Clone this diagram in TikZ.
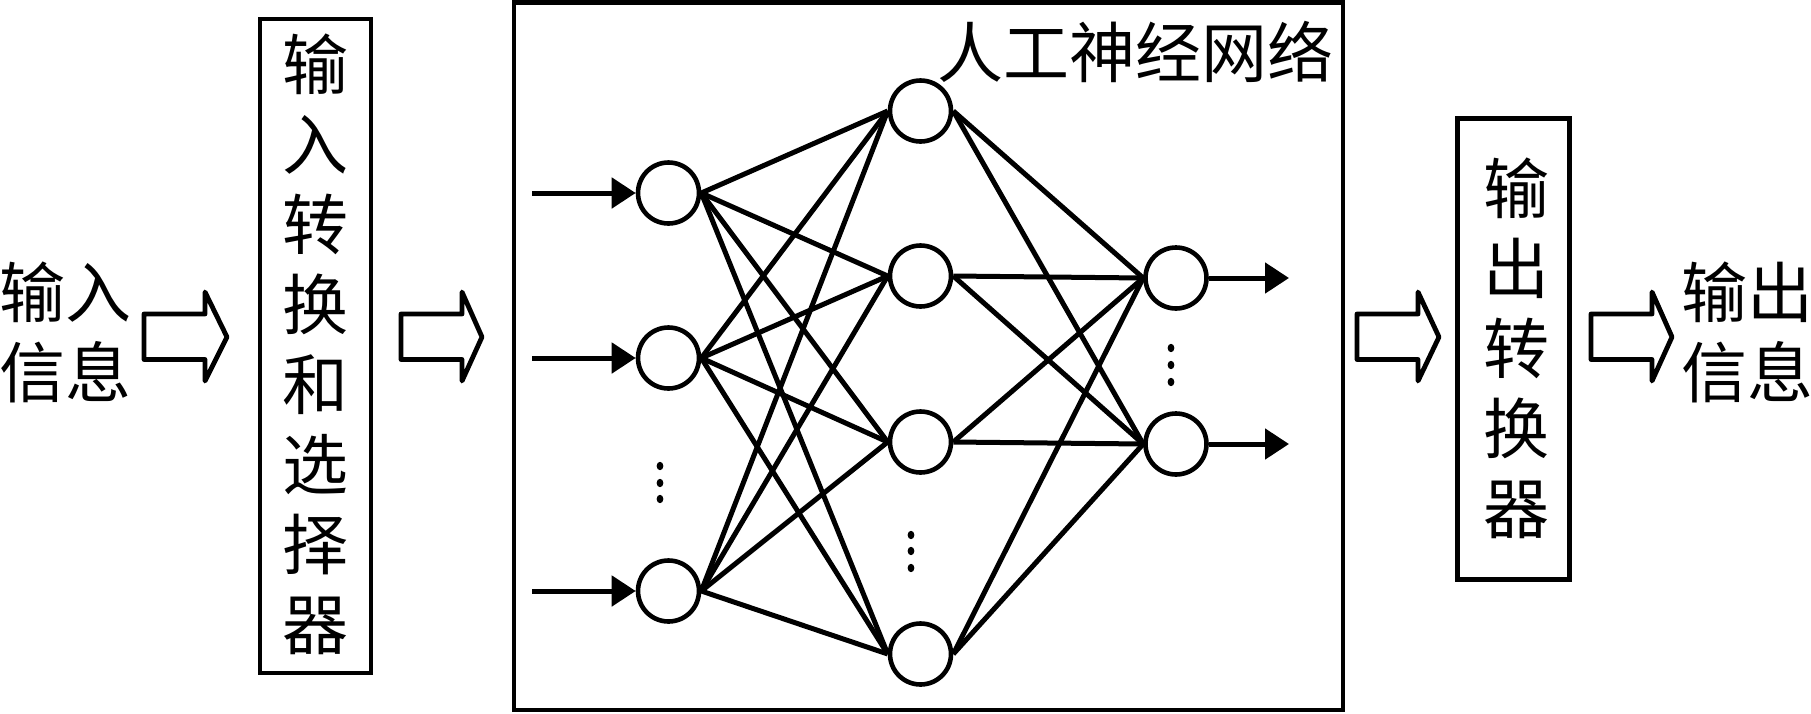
\documentclass[tikz,border=0pt]{standalone}
\usepackage{fontspec}
\newfontfamily\song{Noto Sans CJK SC}
\usetikzlibrary{arrows.meta}
\begin{document}
\begin{tikzpicture}[x=0.5pt,y=-0.5pt,
  neuron/.style={circle,draw,line width=2.3pt,minimum size=30.5pt,inner sep=0pt},
  conn/.style={line width=2.5pt},
  arr/.style={line width=2.5pt,-{Triangle[length=12pt,width=15pt]}},
  frame/.style={draw,line width=2.4pt,inner sep=0pt},
  hollow/.style={draw,line width=2.4pt,line join=round},
  cjk/.style={font=\song\fontsize{33}{40}\selectfont,inner sep=0pt,align=center},
  dotmark/.style={fill=black}
]
\useasboundingbox (0,0) rectangle (1811,713);

% frames
\node[frame,minimum width=55.5pt,minimum height=327pt] (inbox) at (315.5,346) {};
\node[cjk] (intext) at (315.5,344) {输\\入\\转\\换\\和\\选\\择\\器};
\node[frame,minimum width=414.5pt,minimum height=353.75pt] (nnbox) at (928.5,356.25) {};
\node[frame,minimum width=56pt,minimum height=230.5pt] (outbox) at (1513.5,349) {};
\node[cjk] (outtext) at (1516,348) {输\\出\\转\\换\\器};

% side texts
\node[cjk] (info_in) at (65,332) {输入\\信息};
\node[cjk] (info_out) at (1747,332) {输出\\信息};
\node[cjk,anchor=center] (title) at (1135,52) {人工神经网络};

% hollow arrows
\foreach \xa/\xb/\xt in {144/205/227, 401/462/482, 1357/1418/1439, 1591/1652/1672}{
  \draw[hollow] (\xa,314) -- (\xb,314) -- (\xb,292) -- (\xt,337) -- (\xb,381) -- (\xb,359.5) -- (\xa,359.5) -- cycle;
}

% neurons
\node[neuron] (I1) at (668.5,193) {};
\node[neuron] (I2) at (668.5,358) {};
\node[neuron] (I3) at (668.5,591) {};
\node[neuron] (H1) at (920.5,111) {};
\node[neuron] (H2) at (920.5,276) {};
\node[neuron] (H3) at (920.5,442) {};
\node[neuron] (H4) at (920.5,654) {};
\node[neuron] (O1) at (1176,278) {};
\node[neuron] (O2) at (1176,444) {};

% connections
\foreach \i in {I1,I2,I3}{
  \foreach \h in {H1,H2,H3,H4}{
    \draw[conn] (\i.east) -- (\h.west);
  }
}
\foreach \h in {H1,H2,H3,H4}{
  \foreach \o in {O1,O2}{
    \draw[conn] (\h.east) -- (\o.west);
  }
}

% input arrows
\coordinate (s1) at (532,193);
\coordinate (s2) at (532,358);
\coordinate (s3) at (532,591);
\draw[arr] (s1) -- (I1.west);
\draw[arr] (s2) -- (I2.west);
\draw[arr] (s3) -- (I3.west);

% output arrows
\coordinate (e1) at (1289,278);
\coordinate (e2) at (1289,444);
\draw[arr] (O1.east) -- (e1);
\draw[arr] (O2.east) -- (e2);

% ellipsis dots
\foreach \x/\y in {660/466, 660/483, 660/499, 911/535, 911/551, 911/568, 1171/348, 1171/365, 1171/382}{
  \fill[dotmark] (\x,\y) ellipse [x radius=1.7pt, y radius=2.1pt];
}
\end{tikzpicture}
\end{document}
